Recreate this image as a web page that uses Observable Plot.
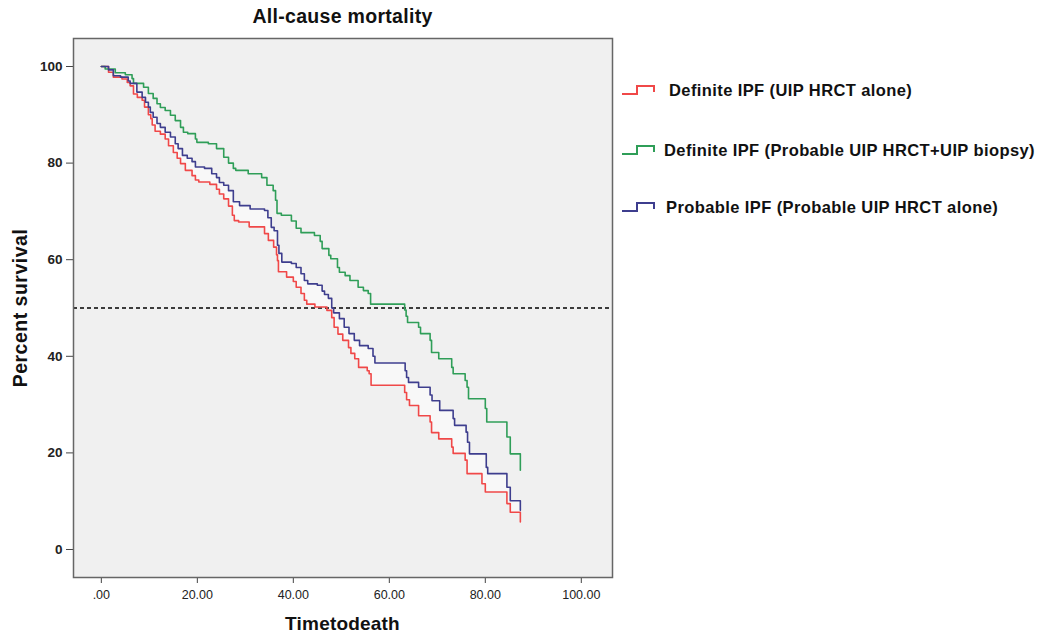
<!DOCTYPE html>
<html>
<head>
<meta charset="utf-8">
<script src="https://cdn.jsdelivr.net/npm/d3@7"></script>
<script src="https://cdn.jsdelivr.net/npm/@observablehq/plot@0.6"></script>
<style>
  html, body { margin: 0; padding: 0; background: #fff; }
  #wrap { position: relative; width: 1042px; height: 635px; font-family: Arial, "Liberation Sans", sans-serif; color: #111; }
  #chart svg { display: block; }
  .title { position: absolute; left: 73px; width: 539px; top: 5px; text-align: center; font-weight: bold; font-size: 19.5px; letter-spacing: 0.3px; }
  .xlab { position: absolute; left: 73px; width: 539px; top: 613px; text-align: center; font-weight: bold; font-size: 19px; letter-spacing: 0.2px; }
  .ylab { position: absolute; left: 20px; top: 308px; transform: translate(-50%, -50%) rotate(-90deg); white-space: nowrap; font-weight: bold; font-size: 19.5px; letter-spacing: 0.5px; }
  .leg { position: absolute; left: 620px; display: flex; align-items: center; font-weight: bold; font-size: 16.5px; letter-spacing: 0.4px; white-space: nowrap; }
  .leg svg { margin-right: 6px; }
</style>
</head>
<body>
<div id="wrap">
  <div id="chart"></div>
  <div class="title">All-cause mortality</div>
  <div class="xlab">Timetodeath</div>
  <div class="ylab">Percent survival</div>
  <div id="legend"></div>
</div>
<script>
// ---- data ----
const seriesNames = [
  "Definite IPF (UIP HRCT alone)",
  "Definite IPF (Probable UIP HRCT+UIP biopsy)",
  "Probable IPF (Probable UIP HRCT alone)"
];
const seriesColors = ["#f04848", "#2f9e58", "#3e3e8e"];

const redTime = [0,1.5,2.5,4.3,5.4,6.0,6.7,7.5,8.5,9.0,9.8,10.3,10.6,11.2,12.3,13.3,14.0,15.0,15.8,16.5,17.5,18.9,19.6,20.3,22.6,24.0,24.6,25.5,26.5,27.3,27.7,28.6,30.8,34.0,34.8,35.9,36.5,36.7,36.9,38.6,40.0,40.6,41.6,42.3,42.8,44.5,47.0,48.0,48.5,49.3,50.3,51.5,52.0,52.8,53.6,55.4,55.8,56.2,63.2,63.6,64.2,66.1,68.5,68.8,70.3,73.0,73.3,75.8,76.2,79.3,80.0,84.5,85.2,87.3];
const redSurv = [100,98.8,97.8,97.4,96.7,96.0,94.3,93.6,93.0,91.6,90.0,89.2,87.9,86.6,86.0,85.0,83.6,82.2,81.0,79.9,78.5,77.4,76.5,76.1,75.6,74.6,73.6,72.6,71.1,69.2,68.1,67.8,66.8,65.4,64.0,62.6,61.0,59.8,57.5,56.4,55.5,54.3,53.0,51.6,50.8,50.2,49.5,48.0,46.0,44.6,43.3,41.8,40.6,39.5,37.7,37.0,36.4,34.0,32.5,31.0,29.8,27.7,26.4,24.2,22.9,21.2,19.9,18.5,15.7,13.6,11.9,9.5,7.7,5.7];

const greenTime = [0,0.8,2.9,5.0,6.4,6.7,8.8,9.8,10.8,11.6,12.3,13.3,14.4,15.4,16.5,17.1,18.0,19.6,19.9,22.3,24.0,25.5,26.5,27.5,28.0,30.6,33.4,34.5,35.8,36.3,36.6,37.5,39.6,40.6,41.6,44.4,45.6,46.0,47.4,47.8,49.2,49.6,50.8,51.8,53.5,54.6,55.6,56.1,63.2,63.5,63.8,66.1,66.5,68.5,68.8,70.3,73.0,73.3,75.8,76.2,76.5,80.0,80.3,84.5,85.2,87.3];
const greenSurv = [100,99.5,98.7,98.3,97.5,96.5,95.7,94.4,93.4,92.3,91.5,90.9,89.9,88.8,87.4,86.4,86.1,85.0,84.3,84.0,83.0,81.2,80.0,78.9,78.5,77.8,77.0,75.4,74.3,72.3,69.6,69.2,68.0,66.5,65.6,65.0,63.8,62.3,60.9,60.2,58.4,57.4,56.7,55.7,54.3,53.6,53.0,50.8,49.6,48.3,47.0,46.0,44.7,43.3,40.8,39.5,37.7,36.4,35.0,33.6,31.2,29.2,26.4,23.3,19.8,16.4];

const blueTime = [0,1.5,2.5,4.0,5.6,6.0,7.4,8.5,9.2,9.8,10.2,10.8,11.6,12.3,13.3,14.4,15.4,16.0,16.9,17.9,18.9,19.6,21.5,23.0,24.0,24.6,25.5,26.5,27.5,28.8,31.0,34.0,34.7,35.4,36.0,36.7,37.0,37.6,39.6,40.6,41.6,42.3,43.0,45.0,46.0,46.5,47.3,48.0,48.4,49.6,50.6,51.6,52.7,53.8,55.6,56.6,57.0,63.3,63.6,64.0,66.1,68.5,68.9,70.5,73.3,73.6,76.0,76.3,76.7,80.2,80.5,84.5,85.2,87.3];
const blueSurv = [100,99.3,98.1,97.8,97.0,96.5,94.7,93.6,92.6,91.6,90.5,89.5,88.2,87.4,86.4,85.4,84.0,83.0,81.6,81.0,80.3,79.2,78.9,77.8,77.0,76.0,75.4,74.3,72.0,71.2,70.5,70.2,68.7,66.7,66.0,63.0,61.3,59.5,59.2,58.4,57.1,55.7,55.0,54.7,53.5,52.8,52.0,50.0,49.0,47.8,46.0,44.7,43.3,42.2,41.6,40.0,38.6,37.0,35.6,34.6,33.6,32.0,30.8,28.8,27.1,25.7,24.3,22.2,19.8,17.0,15.7,12.9,10.1,8.1];

const xTicks = [0, 20, 40, 60, 80, 100];
const yTicks = [0, 20, 40, 60, 80, 100];
const medianLine = [50];

// ---- build tables ----
const seriesTimes = [redTime, greenTime, blueTime];
const seriesSurvs = [redSurv, greenSurv, blueSurv];
const rows = seriesNames.flatMap((name, i) =>
  seriesTimes[i].map((t, j) => ({ series: name, t, s: seriesSurvs[i][j] })));

// light band between red and blue step curves
function stepAt(times, survs, t) {
  let v = survs[0];
  for (let k = 0; k < times.length; k++) { if (times[k] <= t) v = survs[k]; else break; }
  return v;
}
const bandTimes = Array.from(new Set([...redTime, ...blueTime])).sort((a, b) => a - b);
const band = bandTimes.map(t => ({ t, lo: stepAt(redTime, redSurv, t), hi: stepAt(blueTime, blueSurv, t) }));

const chart = Plot.plot({
  width: 1042,
  height: 635,
  marginLeft: 73,
  marginRight: 430,
  marginTop: 38,
  marginBottom: 58,
  style: { fontFamily: "Arial, 'Liberation Sans', sans-serif", fontSize: "12.5px", color: "#222", background: "transparent" },
  x: { domain: [-5.8, 106.5], label: null },
  y: { domain: [-5.8, 105.8], label: null },
  color: { domain: seriesNames, range: seriesColors },
  marks: [
    Plot.frame({ fill: "#f0f0f0" }),
    Plot.areaY(band, { x: "t", y1: "lo", y2: "hi", curve: "step-after", fill: "#f8f8f8" }),
    Plot.ruleY(medianLine, { stroke: "#000", strokeWidth: 1.4, strokeDasharray: "4,3" }),
    Plot.line(rows, { x: "t", y: "s", z: "series", stroke: "series", curve: "step-after", strokeWidth: 1.6 }),
    Plot.axisX({ ticks: xTicks, tickFormat: d => d === 0 ? ".00" : d.toFixed(2), tickSize: 6, tickPadding: 7, label: null, stroke: "#444" }),
    Plot.axisY({ ticks: yTicks, tickFormat: d => String(d), tickSize: 7, tickPadding: 4, label: null, stroke: "#444", fontWeight: "bold", fontSize: 13.5 }),
    Plot.frame({ stroke: "#666", strokeWidth: 1.5 })
  ]
});
document.getElementById("chart").appendChild(chart);

// ---- legend ----
const legendTops = [90, 150, 207];
const legendGaps = [13, 8, 10];
const legend = document.getElementById("legend");
seriesNames.forEach((name, i) => {
  const row = document.createElement("div");
  row.className = "leg";
  row.style.top = (legendTops[i] - 11) + "px";
  row.style.height = "22px";
  row.innerHTML = `<svg width="36" height="14"><path d="M2,11H17V3H34V9" fill="none" stroke="${seriesColors[i]}" stroke-width="2"/></svg>` +
    `<span style="margin-left:${legendGaps[i] - 6}px">${name}</span>`;
  legend.appendChild(row);
});
</script>
</body>
</html>
